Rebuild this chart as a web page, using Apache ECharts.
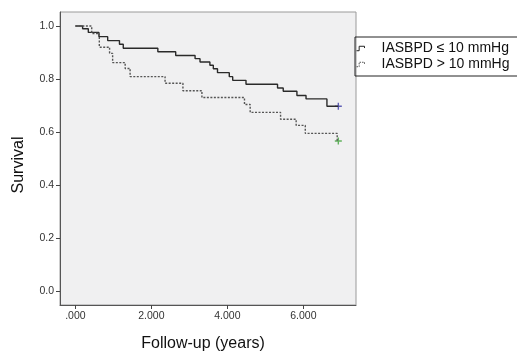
<!DOCTYPE html>
<html>
<head>
<meta charset="utf-8">
<script src="https://cdn.jsdelivr.net/npm/echarts@6/dist/echarts.min.js"></script>
<style>
  html, body { margin: 0; padding: 0; background: #fff; }
  #chart { width: 517px; height: 352px; }
</style>
</head>
<body>
<div id="chart"></div>
<script>
// survival estimates (time in years)
const lowTimes = [0, 0.19, 0.34, 0.62, 0.85, 1.16, 1.26, 2.17, 2.64, 3.15, 3.28, 3.54, 3.63, 3.74, 4.05, 4.14, 4.49, 5.32, 5.47, 5.83, 6.07, 6.62, 6.92];
const lowSurv = [1.0, 0.990, 0.976, 0.960, 0.945, 0.931, 0.916, 0.903, 0.889, 0.877, 0.864, 0.852, 0.839, 0.824, 0.809, 0.795, 0.780, 0.766, 0.754, 0.738, 0.725, 0.697, 0.697];
const highTimes = [0, 0.43, 0.63, 0.90, 0.98, 1.31, 1.44, 2.36, 2.83, 3.33, 4.45, 4.60, 5.40, 5.81, 6.05, 6.89, 6.92];
const highSurv = [1.0, 0.972, 0.920, 0.897, 0.862, 0.840, 0.809, 0.784, 0.756, 0.730, 0.704, 0.674, 0.648, 0.625, 0.595, 0.566, 0.566];
const lowCensor = [[6.92, 0.697]];
const highCensor = [[6.92, 0.566]];

const seriesNames = ['IASBPD \u2264 10 mmHg', 'IASBPD > 10 mmHg'];
const xTicks = [0, 2, 4, 6];
const yTicks = [0, 0.2, 0.4, 0.6, 0.8, 1.0];

const FONT = 'Liberation Sans, Arial, sans-serif';
const PLUS = 'path://M2,0H3V2H5V3H3V5H2V3H0V2H2Z';
const STEP_ICON = 'path://M0,6 L3,6 L3,1 L9,1 L9,3';

function pairs(xs, ys) {
  return xs.map((x, i) => [x, ys[i]]);
}

const chart = echarts.init(document.getElementById('chart'));

const option = {
  animation: false,
  textStyle: { fontFamily: FONT },
  grid: {
    left: 60, right: 161, top: 12, bottom: 47,
    show: true,
    backgroundColor: '#f0f0f1',
    borderColor: '#9a9a9a',
    borderWidth: 1,
  },
  xAxis: {
    type: 'value', min: -0.405, max: 7.385,
    axisLine: { show: true, onZero: false, lineStyle: { color: '#555', width: 1 } },
    axisTick: { show: true, length: 4, customValues: xTicks, lineStyle: { color: '#444' } },
    axisLabel: {
      customValues: xTicks,
      margin: 6, fontSize: 10.5, color: '#333', fontFamily: FONT,
      formatter: (v) => (v === 0 ? '.000' : v.toFixed(3)),
    },
    splitLine: { show: false },
  },
  yAxis: {
    type: 'value', min: -0.053, max: 1.053,
    axisLine: { show: true, onZero: false, lineStyle: { color: '#555', width: 1 } },
    axisTick: { show: true, length: 4, customValues: yTicks, lineStyle: { color: '#444' } },
    axisLabel: {
      customValues: yTicks,
      margin: 6, fontSize: 10.5, color: '#333', fontFamily: FONT,
      formatter: (v) => v.toFixed(1),
    },
    splitLine: { show: false },
  },
  legend: {
    orient: 'vertical',
    left: 355,
    top: 37,
    selectedMode: false,
    borderColor: '#222',
    borderWidth: 1,
    padding: [4, 40, 4, 1],
    itemWidth: 8,
    itemHeight: 5,
    itemGap: 1,
    textStyle: { fontSize: 14, color: '#111', fontFamily: FONT, lineHeight: 15, padding: [0, 0, 0, 12] },
    data: [
      {
        name: seriesNames[0], icon: STEP_ICON,
        itemStyle: { color: 'transparent', borderColor: '#222', borderWidth: 1 },
      },
      {
        name: seriesNames[1], icon: STEP_ICON,
        itemStyle: { color: 'transparent', borderColor: '#555', borderWidth: 1, borderType: [1.5, 1] },
      },
    ],
  },
  graphic: [
    {
      type: 'text', x: 19, y: 165, rotation: Math.PI / 2,
      style: { text: 'Survival', font: '16px ' + FONT, fill: '#111', textAlign: 'center', textVerticalAlign: 'middle' },
    },
    {
      type: 'text', x: 203, y: 344,
      style: { text: 'Follow-up (years)', font: '16px ' + FONT, fill: '#111', textAlign: 'center', textVerticalAlign: 'middle' },
    },
  ],
  series: [
    {
      name: seriesNames[0], type: 'line',
      step: 'end', showSymbol: false,
      data: pairs(lowTimes, lowSurv),
      lineStyle: { color: '#2a2a2a', width: 1.4 },
      itemStyle: { color: '#2a2a2a' },
    },
    {
      name: seriesNames[1], type: 'line',
      step: 'end', showSymbol: false,
      data: pairs(highTimes, highSurv),
      lineStyle: { color: '#555', width: 1.4, type: [2, 1.5] },
      itemStyle: { color: '#555' },
    },
    {
      type: 'scatter', symbol: PLUS, symbolSize: 7,
      data: lowCensor,
      itemStyle: { color: '#3b3ba8' },
    },
    {
      type: 'scatter', symbol: PLUS, symbolSize: 7,
      data: highCensor,
      itemStyle: { color: '#3fa33a' },
    },
  ],
};

chart.setOption(option);
</script>
</body>
</html>
